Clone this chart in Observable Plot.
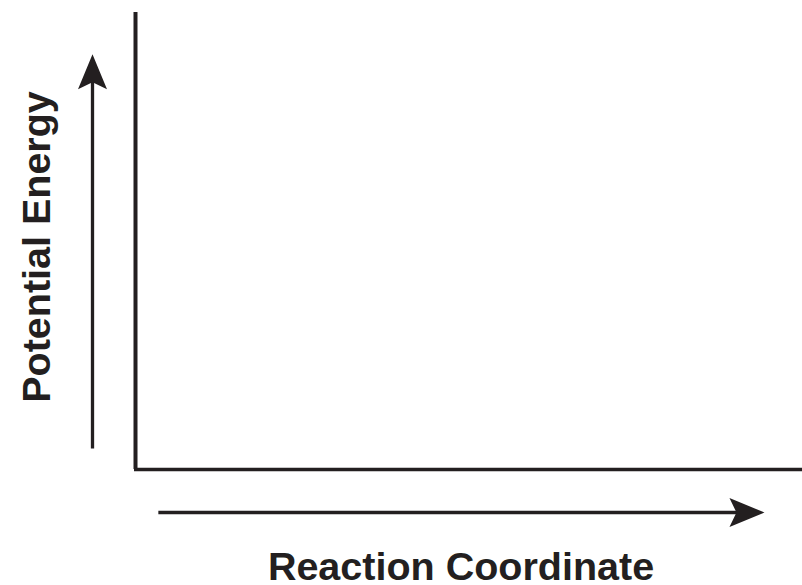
<!DOCTYPE html>
<html>
<head>
<meta charset="utf-8">
<script src="https://cdn.jsdelivr.net/npm/d3@7"></script>
<script src="https://cdn.jsdelivr.net/npm/@observablehq/plot@0.6"></script>
<style>
  html, body { margin: 0; padding: 0; background: #fff; }
  #chart svg { display: block; }
</style>
</head>
<body>
<div id="chart"></div>
<script>
// --- Chart content (a blank energy diagram) ---
const xLabel = "Reaction Coordinate";
const yLabel = "Potential Energy";
// Axis domain (unitless, no ticks)
const xDomain = [0, 1];
const yDomain = [0, 1];
// Direction arrows, in domain units along each axis
const xArrow = [0.035, 0.913];   // shaft start, head centre
const yArrow = [0.045, 0.865];

const ink = "#231f20";

// Filled, barbed arrowheads as custom symbols
const headUp = {
  draw(ctx, size) {
    const s = Math.sqrt(size / Math.PI) / 20;
    ctx.moveTo(0, -20 * s);
    ctx.lineTo(14.5 * s, 15 * s);
    ctx.lineTo(0, 8 * s);
    ctx.lineTo(-14.5 * s, 15 * s);
    ctx.closePath();
  }
};
const headRight = {
  draw(ctx, size) {
    const s = Math.sqrt(size / Math.PI) / 20;
    ctx.moveTo(20 * s, 0);
    ctx.lineTo(-15 * s, 14.5 * s);
    ctx.lineTo(-8 * s, 0);
    ctx.lineTo(-15 * s, -14.5 * s);
    ctx.closePath();
  }
};

const font = "'Liberation Sans', Arial, Helvetica, sans-serif";

const chart = Plot.plot({
  width: 802,
  height: 585,
  marginLeft: 135,
  marginRight: 0,
  marginTop: 12,
  marginBottom: 116,
  x: {domain: xDomain, axis: null},
  y: {domain: yDomain, axis: null},
  style: {background: "#fff", overflow: "visible"},
  marks: [
    // axes
    Plot.ruleX([xDomain[0]], {stroke: ink, strokeWidth: 4}),
    Plot.ruleY([yDomain[0]], {x1: xDomain[0] - 0.0015, x2: xDomain[1], stroke: ink, strokeWidth: 3.7}),
    // vertical arrow (left of y axis)
    Plot.ruleX([xDomain[0]], {y1: yArrow[0], y2: yArrow[1], dx: -43, stroke: ink, strokeWidth: 3.3}),
    Plot.dot([0], {x: () => xDomain[0], y: () => yArrow[1], dx: -43, symbol: headUp, r: 20, fill: ink, stroke: "none"}),
    // horizontal arrow (below x axis)
    Plot.ruleY([yDomain[0]], {x1: xArrow[0], x2: xArrow[1], dy: 43, stroke: ink, strokeWidth: 3.5}),
    Plot.dot([0], {x: () => xArrow[1], y: () => yDomain[0], dy: 43, symbol: headRight, r: 20, fill: ink, stroke: "none"}),
    // axis titles
    Plot.text([xLabel], {frameAnchor: "bottom", text: d => d, dx: -8, dy: 110,
      fontSize: 39.5, fontWeight: "bold", fontFamily: font, fill: ink}),
    Plot.text([yLabel], {frameAnchor: "left", text: d => d, rotate: -90, textAnchor: "middle", dx: -98, dy: 6,
      fontSize: 39.5, fontWeight: "bold", fontFamily: font, fill: ink})
  ]
});
document.getElementById("chart").appendChild(chart);
</script>
</body>
</html>
